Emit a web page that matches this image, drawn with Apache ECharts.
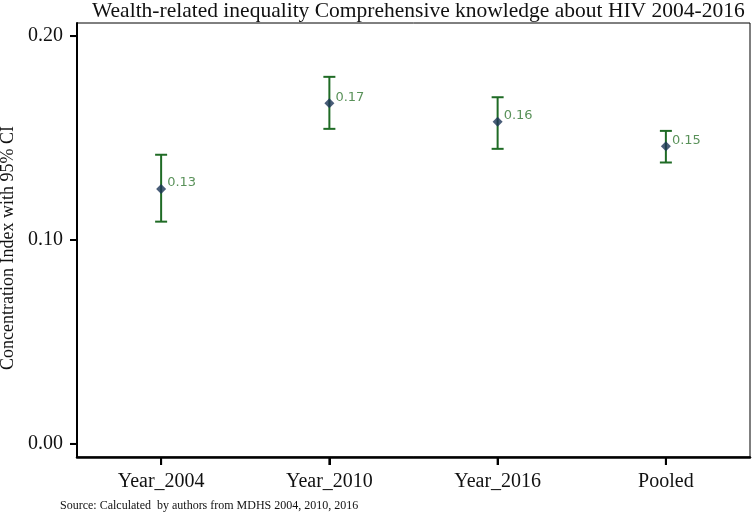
<!DOCTYPE html>
<html>
<head>
<meta charset="utf-8">
<script src="https://cdn.jsdelivr.net/npm/echarts@6/dist/echarts.min.js"></script>
<style>html,body{margin:0;padding:0;background:#fff}#c{width:752px;height:513px}</style>
</head>
<body>
<div id="c"></div>
<script>
var categories = ['Year_2004', 'Year_2010', 'Year_2016', 'Pooled'];
var estimates = [0.125, 0.167, 0.158, 0.146];
var ciLower = [0.109, 0.1545, 0.1447, 0.138];
var ciUpper = [0.1418, 0.180, 0.170, 0.1535];
var yTicks = [0, 0.1, 0.2];

var chart = echarts.init(document.getElementById('c'));
var serif = '"Liberation Serif", "Times New Roman", serif';
var errData = categories.map(function (c, i) { return [i, ciLower[i], ciUpper[i]]; });
var ptData = categories.map(function (c, i) { return [i, estimates[i]]; });
var yTickData = yTicks.map(function (v) { return [0, v]; });
var xTickData = categories.map(function (c, i) { return [i, 0]; });
var tickStyle = { stroke: '#000', lineWidth: 2 };

chart.setOption({
  animation: false,
  title: [
    { text: 'Wealth-related inequality Comprehensive knowledge about HIV 2004-2016', left: 87, top: -5,
      textStyle: { fontFamily: serif, fontSize: 21.5, fontWeight: 'normal', color: '#111' } },
    { text: 'Source: Calculated  by authors from MDHS 2004, 2010, 2016', left: 55, top: 495,
      textStyle: { fontFamily: serif, fontSize: 12, fontWeight: 'normal', color: '#111' } }
  ],
  grid: { left: 77, right: 2, top: 23, bottom: 56, show: true, borderColor: '#000', borderWidth: 1,
    containLabel: false, outerBoundsMode: 'auto', outerBounds: { left: -100, right: -100, top: -100, bottom: -100 } },
  xAxis: {
    type: 'category', data: categories, boundaryGap: true,
    axisLine: { onZero: false, lineStyle: { color: '#000', width: 2.5 } },
    axisTick: { show: true, alignWithLabel: true, inside: false, length: 8, lineStyle: { color: '#000', width: 2 } },
    axisLabel: { margin: 15, fontFamily: serif, fontSize: 20, color: '#111' },
    splitLine: { show: false }
  },
  yAxis: {
    type: 'value', min: -0.0064, max: 0.2064,
    name: 'Concentration Index with 95% CI', nameLocation: 'middle', nameGap: 56,
    nameTextStyle: { fontFamily: serif, fontSize: 18, color: '#111', padding: [0, 16, 0, 0] },
    axisLine: { show: true, onZero: false, lineStyle: { color: '#000', width: 2 } },
    axisTick: { show: true, inside: false, customValues: yTicks, length: 7, lineStyle: { color: '#000', width: 2 } },
    axisLabel: { customValues: yTicks, margin: 14, fontFamily: serif, fontSize: 20, color: '#111',
      formatter: function (v) { return v.toFixed(2); } },
    splitLine: { show: false }
  },
  series: [
    {
      type: 'custom',
      data: yTickData,
      silent: true,
      clip: false,
      renderItem: function (params, api) {
        var p = api.coord([api.value(0), api.value(1)]);
        var x0 = params.coordSys.x;
        return { type: 'line', shape: { x1: x0 - 7, y1: p[1], x2: x0, y2: p[1] }, style: tickStyle };
      },
      z: 1
    },
    {
      type: 'custom',
      data: xTickData,
      silent: true,
      clip: false,
      renderItem: function (params, api) {
        var p = api.coord([api.value(0), api.value(1)]);
        var yb = params.coordSys.y + params.coordSys.height;
        return { type: 'line', shape: { x1: p[0], y1: yb, x2: p[0], y2: yb + 8 }, style: tickStyle };
      },
      z: 1
    },
    {
      type: 'custom',
      data: errData,
      renderItem: function (params, api) {
        var x = api.value(0);
        var lo = api.coord([x, api.value(1)]);
        var hi = api.coord([x, api.value(2)]);
        var hw = 6;
        var st = { stroke: '#1f6b25', lineWidth: 2 };
        return {
          type: 'group',
          children: [
            { type: 'line', shape: { x1: lo[0], y1: lo[1], x2: hi[0], y2: hi[1] }, style: st },
            { type: 'line', shape: { x1: lo[0] - hw, y1: lo[1], x2: lo[0] + hw, y2: lo[1] }, style: st },
            { type: 'line', shape: { x1: hi[0] - hw, y1: hi[1], x2: hi[0] + hw, y2: hi[1] }, style: st }
          ]
        };
      },
      z: 2
    },
    {
      type: 'scatter',
      data: ptData,
      symbol: 'diamond',
      symbolSize: 10,
      itemStyle: { color: '#1b3556' },
      label: {
        show: true, position: 'right', distance: 1, offset: [0, -6],
        fontFamily: '"DejaVu Sans", Verdana, sans-serif', fontSize: 13, color: '#2f7530',
        formatter: function (p) { return p.value[1].toFixed(2); }
      },
      z: 3
    }
  ]
});
</script>
</body>
</html>
